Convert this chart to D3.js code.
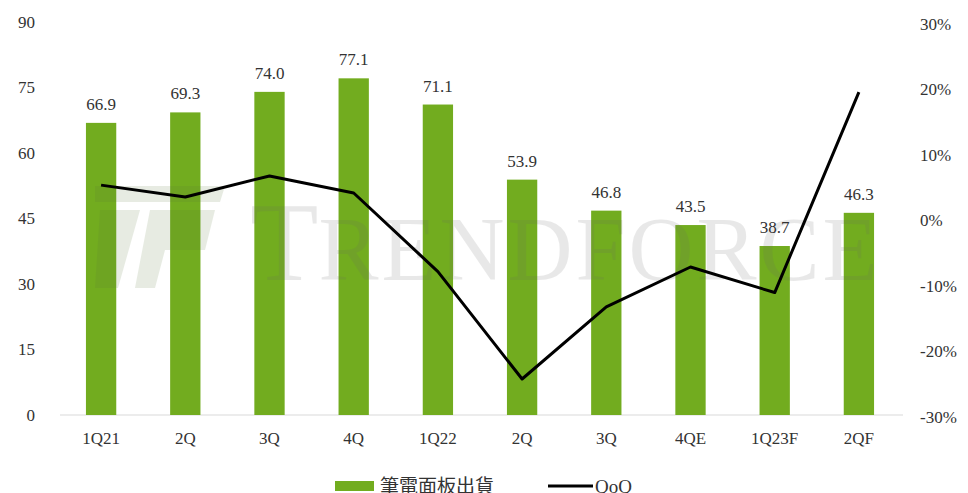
<!DOCTYPE html>
<html>
<head>
<meta charset="utf-8">
<script src="https://cdn.jsdelivr.net/npm/d3@7"></script>
<style>
  body { margin: 0; background: #fff; }
  svg { display: block; }
</style>
</head>
<body>
<svg id="chart" width="968" height="493"></svg>
<script>
// quarters on the x axis
const quarters = ['1Q21', '2Q', '3Q', '4Q', '1Q22', '2Q', '3Q', '4QE', '1Q23F', '2QF'];
// notebook panel shipments (M)
const shipments = [66.9, 69.3, 74.0, 77.1, 71.1, 53.9, 46.8, 43.5, 38.7, 46.3];
// quarter over quarter change (%)
const qoq = [5.4, 3.6, 6.8, 4.2, -7.8, -24.2, -13.2, -7.1, -11.0, 19.6];
const leftTicks = [0, 15, 30, 45, 60, 75, 90];
const rightTicks = [-30, -20, -10, 0, 10, 20, 30];
const legendLabels = ['筆電面板出貨', 'QoQ'];

const svg = d3.select('#chart');
const serif = '"Liberation Serif", "DejaVu Serif", serif';
const green = '#72ac1f';

const x = d3.scaleBand()
  .domain(d3.range(quarters.length))
  .range([59, 901]);
const barW = x.bandwidth() * 0.36;
const yL = d3.scaleLinear().domain([0, 90]).range([415, 22]);
const yR = d3.scaleLinear().domain([-30, 30]).range([417, 24]);
const cx = i => x(i) + x.bandwidth() / 2;

// baseline
svg.append('line')
  .attr('x1', 60).attr('x2', 903)
  .attr('y1', yL(0)).attr('y2', yL(0))
  .attr('stroke', '#d9d9d9').attr('stroke-width', 1);

// bars
svg.append('g')
  .selectAll('rect')
  .data(shipments)
  .enter()
  .append('rect')
  .attr('x', (d, i) => cx(i) - barW / 2)
  .attr('width', barW)
  .attr('y', d => yL(d))
  .attr('height', d => yL(0) - yL(d))
  .attr('fill', green);

// watermark
const wm = svg.append('g').attr('opacity', 0.14);
wm.append('path')
  .attr('d', 'M95,186 L225,186 L220,202 L95,202 Z M100,210 L140,210 L118,288 L95,288 Z M150,210 L215,210 L205,250 L165,250 L155,288 L135,288 Z')
  .attr('fill', '#5a7a3a');
const wmText = wm.append('text')
  .attr('x', 250).attr('y', 280)
  .attr('font-family', serif)
  .attr('fill', '#666');
wmText.append('tspan').attr('font-size', 112).text('T');
wmText.append('tspan').attr('font-size', 90).attr('letter-spacing', 3).text('RENDFORCE');

// value labels
svg.append('g')
  .selectAll('text')
  .data(shipments)
  .enter()
  .append('text')
  .attr('x', (d, i) => cx(i))
  .attr('y', d => yL(d) - 13)
  .attr('text-anchor', 'middle')
  .attr('font-family', serif)
  .attr('font-size', 17)
  .attr('fill', '#333')
  .text(d => d.toFixed(1));

// QoQ line
const line = d3.line()
  .x((d, i) => cx(i))
  .y(d => yR(d));
svg.append('path')
  .datum(qoq)
  .attr('d', line)
  .attr('fill', 'none')
  .attr('stroke', '#000')
  .attr('stroke-width', 3)
  .attr('stroke-linejoin', 'round');

// left axis
svg.append('g')
  .selectAll('text')
  .data(leftTicks)
  .enter()
  .append('text')
  .attr('x', 35)
  .attr('y', d => yL(d))
  .attr('dy', '0.35em')
  .attr('text-anchor', 'end')
  .attr('font-family', serif)
  .attr('font-size', 17)
  .attr('fill', '#333')
  .text(d => d);

// right axis
svg.append('g')
  .selectAll('text')
  .data(rightTicks)
  .enter()
  .append('text')
  .attr('x', 920)
  .attr('y', d => yR(d))
  .attr('dy', '0.35em')
  .attr('font-family', serif)
  .attr('font-size', 17)
  .attr('fill', '#333')
  .text(d => d + '%');

// x labels
svg.append('g')
  .selectAll('text')
  .data(quarters)
  .enter()
  .append('text')
  .attr('x', (d, i) => cx(i))
  .attr('y', 444)
  .attr('text-anchor', 'middle')
  .attr('font-family', serif)
  .attr('font-size', 17)
  .attr('fill', '#333')
  .text(d => d);

// legend
const lg = svg.append('g');
lg.append('rect')
  .attr('x', 335).attr('y', 481)
  .attr('width', 39).attr('height', 10)
  .attr('fill', green);
lg.append('text')
  .attr('x', 380).attr('y', 493)
  .attr('font-family', '"Noto Sans CJK TC", sans-serif')
  .attr('font-size', 19)
  .attr('fill', '#333')
  .text(legendLabels[0]);
lg.append('line')
  .attr('x1', 548).attr('x2', 593)
  .attr('y1', 486).attr('y2', 486)
  .attr('stroke', '#000').attr('stroke-width', 3);
lg.append('text')
  .attr('x', 595).attr('y', 493)
  .attr('font-family', serif)
  .attr('font-size', 19)
  .attr('fill', '#333')
  .text(legendLabels[1]);
</script>
</body>
</html>
